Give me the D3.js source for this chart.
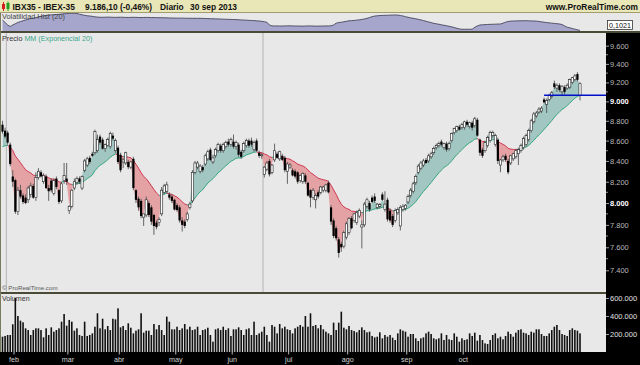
<!DOCTYPE html>
<html>
<head>
<meta charset="utf-8">
<script src="https://cdn.jsdelivr.net/npm/d3@7"></script>
<style>
  html, body { margin: 0; padding: 0; background: #e8e8e8; }
  svg { display: block; font-family: "Liberation Sans", Arial, sans-serif; }
</style>
</head>
<body>
<svg id="chart" width="640" height="365"></svg>
<script>
// -- Data --
// daily candles: [open, high, low, close]
const ohlc = [
  [8760,8800,8670,8690],[8700,8730,8620,8640],[8680,8700,8560,8580],[8560,8580,8350,8370],
  [8250,8310,8150,8200],[8215,8230,7900,7920],[7920,8150,7890,8120],[8120,8170,8040,8060],
  [8070,8090,7990,8010],[8050,8080,7990,8000],[8030,8160,8000,8140],[8080,8190,8050,8160],
  [8160,8180,8040,8050],[8050,8290,8020,8240],[8240,8330,8220,8300],[8290,8310,8240,8250],
  [8200,8280,8180,8260],[8250,8270,8130,8140],[8140,8170,8020,8110],[8210,8230,8100,8120],
  [8090,8230,8070,8210],[8230,8250,8130,8150],[8120,8130,7990,8010],[8020,8200,8000,8180],
  [8210,8380,8180,8260],[8230,8380,8170,8200],[7930,7980,7900,7970],[7970,8130,7950,8120],
  [8140,8230,8120,8200],[8190,8250,8170,8230],[8230,8250,8180,8200],[8140,8260,8120,8250],
  [8310,8420,8290,8400],[8360,8440,8340,8420],[8430,8450,8370,8390],[8470,8490,8440,8450],
  [8480,8710,8460,8690],[8500,8660,8480,8610],[8640,8660,8560,8580],[8610,8630,8510,8520],
  [8520,8570,8490,8560],[8550,8630,8540,8610],[8540,8690,8520,8670],[8650,8680,8600,8620],
  [8500,8620,8480,8600],[8530,8550,8370,8390],[8460,8480,8290,8310],[8390,8430,8330,8410],
  [8380,8490,8360,8480],[8390,8410,8320,8340],[8340,8400,8320,8390],[8420,8440,8120,8140],
  [8120,8130,8000,8030],[8040,8060,7930,7960],[8020,8040,7860,7880],[7870,7900,7790,7900],
  [7890,8060,7870,8030],[8000,8020,7870,7890],[7960,7980,7800,7830],[7890,7900,7710,7790],
  [7820,7840,7760,7780],[7820,7870,7790,7850],[7900,8150,7880,8120],[8100,8180,8080,8160],
  [8110,8200,8090,8170],[8080,8100,8030,8050],[8060,8080,8000,8020],[8030,8040,7930,7940],
  [7980,8000,7920,7935],[7960,7980,7820,7840],[7840,7870,7740,7800],[7830,7850,7770,7790],
  [7850,7920,7830,7900],[7960,8010,7940,7990],[8020,8310,8000,8290],[8290,8400,8270,8380],
  [8340,8400,8320,8380],[8300,8370,8280,8350],[8340,8360,8290,8310],[8370,8470,8350,8450],
  [8420,8510,8400,8490],[8510,8530,8400,8410],[8390,8460,8370,8430],[8450,8530,8430,8510],
  [8500,8580,8480,8560],[8550,8570,8480,8500],[8500,8580,8480,8560],[8540,8600,8520,8580],
  [8590,8620,8540,8560],[8560,8630,8540,8610],[8590,8660,8520,8540],[8540,8600,8510,8580],
  [8560,8580,8440,8460],[8490,8510,8420,8440],[8500,8590,8480,8570],[8550,8620,8530,8600],
  [8600,8620,8530,8550],[8600,8630,8540,8560],[8510,8600,8490,8580],[8600,8620,8490,8500],
  [8480,8500,8430,8450],[8450,8480,8420,8460],[8270,8350,8240,8340],[8320,8400,8300,8380],
  [8400,8420,8250,8270],[8290,8370,8270,8360],[8410,8570,8390,8500],[8470,8490,8420,8430],
  [8420,8500,8400,8490],[8450,8470,8400,8410],[8430,8450,8290,8310],[8300,8390,8180,8370],
  [8340,8380,8320,8360],[8310,8330,8250,8260],[8300,8320,8230,8250],[8290,8300,8180,8200],
  [8210,8270,8190,8260],[8200,8290,8180,8280],[8260,8280,8180,8200],[8190,8200,8060,8070],
  [8120,8130,7960,8050],[8050,8140,8030,8120],[8030,8090,7950,8070],[8100,8120,8040,8060],
  [8100,8160,8080,8150],[8120,8160,8100,8150],[8120,8180,8100,8170],[8190,8210,8090,8100],
  [7960,7980,7800,7830],[7840,7860,7680,7700],[7770,7790,7660,7680],[7670,7690,7510,7550],
  [7630,7650,7560,7600],[7610,7750,7590,7730],[7690,7830,7670,7810],[7730,7870,7710,7860],
  [7860,7880,7760,7770],[7840,7910,7820,7900],[7820,7930,7800,7910],[7880,7950,7860,7930],
  [7780,7840,7590,7800],[7800,8010,7780,7990],[7970,8050,7950,8030],[8000,8020,7920,7940],
  [8050,8070,8000,8010],[8060,8090,8000,8020],[7960,8000,7940,7990],[7970,8000,7950,7985],
  [8080,8100,8020,8030],[7940,8110,7920,7990],[8030,8050,7830,7850],[7930,7950,7820,7840],
  [7880,7900,7780,7800],[7840,7950,7820,7930],[7910,7960,7890,7940],[7790,7980,7750,7960],
  [7940,7990,7920,7970],[7950,7990,7930,7980],[8010,8080,7990,8060],[8070,8140,8050,8120],
  [8110,8200,8090,8180],[8190,8270,8170,8250],[8290,8370,8270,8350],[8330,8400,8310,8380],
  [8360,8420,8340,8400],[8410,8430,8370,8380],[8400,8470,8380,8450],[8440,8490,8420,8470],
  [8480,8540,8460,8520],[8530,8570,8510,8550],[8550,8590,8530,8570],
  [8590,8610,8540,8560],[8530,8580,8510,8570],[8570,8590,8490,8510],[8520,8590,8500,8570],
  [8600,8680,8580,8670],[8680,8730,8660,8720],[8700,8750,8680,8740],[8740,8760,8700,8710],
  [8730,8780,8710,8760],[8730,8800,8710,8790],[8790,8810,8740,8760],[8740,8790,8720,8780],
  [8780,8800,8700,8730],[8750,8840,8730,8820],[8810,8830,8640,8650],[8610,8620,8450,8480],
  [8510,8530,8430,8450],[8500,8600,8480,8580],[8550,8650,8530,8630],[8600,8700,8580,8680],
  [8650,8700,8630,8680],[8560,8670,8540,8650],[8610,8630,8370,8400],[8360,8420,8290,8410],
  [8410,8460,8390,8440],[8450,8470,8390,8410],[8400,8420,8270,8290],[8380,8460,8360,8450],
  [8420,8480,8400,8470],[8440,8520,8420,8500],[8470,8530,8360,8510],[8500,8570,8480,8550],
  [8530,8640,8510,8620],[8560,8670,8540,8650],[8610,8720,8590,8700],[8700,8820,8680,8800],
  [8790,8890,8770,8870],[8850,8900,8830,8880],[8890,8940,8870,8920],[8900,8950,8880,8930],
  [9020,9040,8980,8990],[8970,9030,8880,9010],[9020,9080,9000,9060],[9050,9110,9030,9090],
  [9190,9220,9130,9150],[9140,9190,9100,9170],[9170,9190,9100,9120],[9100,9170,9060,9160],
  [9150,9170,9070,9100],[9140,9190,9120,9170],[9150,9240,9130,9230],[9200,9260,9180,9250],
  [9230,9290,9210,9270],[9290,9310,9210,9228],[9060,9200,9010,9186.1]
];

// daily volume, thousands
const volumes = [
  170,178,189,189,308,600,400,348,330,263,244,189,244,263,263,244,163,263,189,274,226,244,263,
  337,422,293,356,337,237,263,189,178,337,178,189,207,281,430,263,370,252,289,244,
  370,363,485,274,289,244,319,270,207,237,252,430,215,237,237,189,311,252,300,244,189,
  393,337,252,252,281,244,263,311,252,281,244,252,281,189,244,252,270,189,115,252,263,244,
  281,244,263,178,252,252,274,244,189,252,263,189,337,189,207,226,281,189,115,300,
  281,207,311,263,281,252,244,207,263,281,300,281,400,281,430,289,300,263,
  300,252,226,207,189,326,244,326,448,270,252,289,244,233,219,244,274,244,219,226,
  178,163,170,219,152,189,170,189,159,133,207,252,237,226,170,200,200,152,122,152,
  163,207,226,200,152,141,152,207,133,189,141,133,207,170,115,152,133,141,207,178,
  215,126,189,133,96,89,133,189,207,152,170,141,178,226,200,170,215,244,252,215,
  207,189,226,215,252,252,200,178,178,207,244,281,300,244,200,189,178,244,263,244,237,207
];

// historical volatility (20)
const volatility = [
  0.214,0.187,0.160,0.144,0.160,0.174,0.187,0.197,0.205,0.214,0.222,0.230,0.234,0.240,0.246,
  0.254,0.260,0.264,0.268,0.269,0.271,0.273,0.275,0.278,0.281,0.283,0.285,0.286,0.286,0.284,
  0.276,0.270,0.264,0.259,0.257,0.253,0.248,0.245,0.243,
  0.243,0.244,0.245,0.244,0.243,0.242,0.243,0.244,0.243,0.242,0.241,0.242,0.243,0.242,0.241,
  0.240,0.241,0.242,0.241,
  0.240,0.240,0.239,0.239,0.238,0.238,0.237,0.236,0.235,
  0.235,0.234,0.234,0.234,0.233,0.233,0.233,0.232,0.232,0.232,0.232,
  0.231,0.230,0.229,0.228,0.227,0.226,0.225,0.224,0.223,0.222,0.221,
  0.220,0.219,0.218,0.216,0.215,0.213,0.212,0.210,0.209,0.207,0.205,0.203,
  0.200,0.195,0.190,0.160,0.150,
  0.150,0.150,0.149,0.149,0.150,0.151,0.151,0.150,0.149,0.149,0.148,0.148,0.149,0.150,0.150,
  0.149,0.148,0.148,0.149,0.149,0.150,0.150,0.151,
  0.160,0.180,0.186,0.190,0.195,0.200,0.205,0.207,0.209,0.212,0.216,0.220,0.225,0.232,0.240,
  0.250,0.256,0.259,0.262,0.263,0.264,0.265,0.266,0.267,0.268,0.267,0.262,0.257,0.250,0.243,
  0.237,0.232,0.227,0.221,0.215,0.208,0.200,0.193,0.186,0.178,0.173,0.168,0.162,0.157,0.152,
  0.146,0.140,0.133,0.125,0.118,0.114,0.114,0.114,0.114,0.115,0.135,0.150,0.160,0.162,0.164,
  0.166,0.167,0.168,0.169,0.170,0.171,0.180,0.190,0.198,0.202,0.203,0.204,0.205,0.205,0.206,
  0.206,0.205,0.204,0.203,0.202,0.198,0.194,0.190,0.186,0.183,0.180,0.177,0.174,0.171,0.165,
  0.150,0.136,0.130,0.122,0.115,0.108,0.1021
];

const monthLabels = ["feb", "mar", "abr", "may", "jun", "jul", "ago", "sep", "oct"];
const monthStartBars = [5, 26, 46, 68, 90, 112, 135, 158, 180];
const priceTicks = [7400, 7600, 7800, 8000, 8200, 8400, 8600, 8800, 9000, 9200, 9400, 9600];
const volumeTicks = [200000, 400000, 600000];
const markerBars = [2, 102];     // thin grey vertical lines
const emaStart = 8540;           // EMA(20) value at the first bar
const emaPeriod = 20;
const levelPrice = 9065;         // blue horizontal line
const levelFromBar = 211;
const lastVolatility = "0,1021";

// -- Layout --
const svg = d3.select("#chart");
const W = 640, H = 365;
const plotRight = 606;
const volTop = 13, volBottom = 31;
const priceTop = 33, priceBottom = 292;
const vTop = 294, vBottom = 352;

const N = ohlc.length;
const x = d3.scaleLinear().domain([0, N - 1]).range([2.5, 580]);
const step = x(1) - x(0);
const yPrice = d3.scaleLog().domain([7400, 9600]).range([270.3, 45.7]);
const yVolume = d3.scaleLinear().domain([0, 600000]).range([vBottom, 298]);
const yVolat = d3.scaleLinear().domain([0.09, 0.30]).range([31.5, 12]);

const numFmt = d3.formatLocale({decimal: ",", thousands: ".", grouping: [3], currency: ["", ""]}).format(",");

// EMA(20) of the closes
const ema = [];
ohlc.forEach((d, i) => {
    const k = 2 / (emaPeriod + 1);
    ema.push(i === 0 ? emaStart : ema[i - 1] + k * (d[3] - ema[i - 1]));
});

// -- Backgrounds and frames --
svg.append("rect").attr("width", W).attr("height", H).attr("fill", "#e8e8e8");
svg.append("rect").attr("x", 0).attr("y", 0).attr("width", W).attr("height", 12.5).attr("fill", "#e9e6b8");
svg.append("line").attr("x1", 0).attr("x2", W).attr("y1", 12.5).attr("y2", 12.5).attr("stroke", "#a09c70");

// header icon
svg.append("rect").attr("x", 2).attr("y", 4).attr("width", 3).attr("height", 5).attr("fill", "#d02020");
svg.append("line").attr("x1", 3.5).attr("x2", 3.5).attr("y1", 2).attr("y2", 11).attr("stroke", "#d02020");
svg.append("rect").attr("x", 6.5).attr("y", 3).attr("width", 3).attr("height", 6).attr("fill", "#20a020");
svg.append("line").attr("x1", 8).attr("x2", 8).attr("y1", 1.5).attr("y2", 11).attr("stroke", "#20a020");

const header = svg.append("text").attr("y", 9.8).attr("font-size", 8.4).attr("font-weight", "bold").attr("fill", "#111");
header.append("tspan").attr("x", 12.5).text("IBX35 - IBEX-35");
header.append("tspan").attr("x", 85).text("9.186,10 (-0,46%)");
header.append("tspan").attr("x", 160).text("Diario");
header.append("tspan").attr("x", 190).text("30 sep 2013");
svg.append("text").attr("x", 638).attr("y", 9.8).attr("text-anchor", "end")
    .attr("font-size", 8.4).attr("font-weight", "bold").attr("fill", "#111").text("www.ProRealTime.com");

// -- Volatility panel --
const volClip = svg.append("clipPath").attr("id", "volclip");
volClip.append("rect").attr("x", 0).attr("y", volTop).attr("width", plotRight).attr("height", volBottom - volTop);
const volG = svg.append("g").attr("clip-path", "url(#volclip)");
volG.append("path").datum(volatility)
    .attr("fill", "#a6a6cc")
    .attr("d", d3.area().x((d, i) => x(i)).y0(volBottom).y1(d => yVolat(d)));
volG.append("path").datum(volatility)
    .attr("fill", "none").attr("stroke", "#45455c").attr("stroke-width", 0.9)
    .attr("d", d3.line().x((d, i) => x(i)).y(d => yVolat(d)));
svg.append("text").attr("x", 2).attr("y", 19).attr("font-size", 7.3).attr("fill", "#444").text("Volatilidad Hist (20)");
svg.append("rect").attr("x", 607.5).attr("y", 20.5).attr("width", 25).attr("height", 9)
    .attr("fill", "#fff").attr("stroke", "#333").attr("stroke-width", 0.8);
svg.append("text").attr("x", 620).attr("y", 27.8).attr("text-anchor", "middle")
    .attr("font-size", 7.2).attr("fill", "#111").text(lastVolatility);

// panel separators
svg.append("rect").attr("x", 0).attr("y", volBottom).attr("width", W).attr("height", 2).attr("fill", "#4a4a36");
svg.append("rect").attr("x", 0).attr("y", priceBottom).attr("width", W).attr("height", 2).attr("fill", "#4a4a36");
svg.append("line").attr("x1", 0.5).attr("x2", 0.5).attr("y1", volTop).attr("y2", vBottom).attr("stroke", "#7a7a60");

// -- Price panel --
const priceClip = svg.append("clipPath").attr("id", "priceclip");
priceClip.append("rect").attr("x", 1).attr("y", priceTop).attr("width", plotRight - 1).attr("height", priceBottom - priceTop);
const priceG = svg.append("g").attr("clip-path", "url(#priceclip)");

markerBars.forEach(b => {
    priceG.append("line")
        .attr("x1", x(b) - step / 2).attr("x2", x(b) - step / 2)
        .attr("y1", priceTop).attr("y2", priceBottom)
        .attr("stroke", "#b4b4b4").attr("stroke-width", 1);
});

// clip regions above / below the EMA
svg.append("clipPath").attr("id", "aboveema").append("path")
    .attr("d", d3.area().x((d, i) => x(i)).y0(d => yPrice(d)).y1(priceTop)(ema));
svg.append("clipPath").attr("id", "belowema").append("path")
    .attr("d", d3.area().x((d, i) => x(i)).y0(d => yPrice(d)).y1(priceBottom)(ema));

const bandArea = d3.area()
    .x((d, i) => x(i))
    .y0((d, i) => yPrice(ema[i]))
    .y1(d => yPrice(d[3]));

priceG.append("path").datum(ohlc).attr("clip-path", "url(#aboveema)")
    .attr("fill", "#a2c6c2").attr("d", bandArea);
priceG.append("path").datum(ohlc).attr("clip-path", "url(#belowema)")
    .attr("fill", "#e4a2a4").attr("d", bandArea);

// EMA line, green while price above it, red below
for (let i = 1; i < N; i++) {
    priceG.append("line")
        .attr("x1", x(i - 1)).attr("y1", yPrice(ema[i - 1]))
        .attr("x2", x(i)).attr("y2", yPrice(ema[i]))
        .attr("stroke", ohlc[i][3] >= ema[i] ? "#2ea880" : "#d2344f")
        .attr("stroke-width", 1);
}

// candles
const candles = priceG.selectAll(".candle").data(ohlc).enter()
    .append("g").attr("class", "candle");
candles.append("line")
    .attr("x1", (d, i) => x(i)).attr("x2", (d, i) => x(i))
    .attr("y1", d => yPrice(d[1])).attr("y2", d => yPrice(d[2]))
    .attr("stroke", "#555").attr("stroke-width", 0.9);
candles.append("rect")
    .attr("x", (d, i) => x(i) - 1.1)
    .attr("width", 2.2)
    .attr("y", d => yPrice(Math.max(d[0], d[3])))
    .attr("height", d => Math.max(0.8, Math.abs(yPrice(d[0]) - yPrice(d[3]))))
    .attr("fill", d => d[3] >= d[0] ? "#fff" : "#000")
    .attr("stroke", d => d[3] >= d[0] ? "#222" : "none")
    .attr("stroke-width", 0.6);

// blue level line
svg.append("line")
    .attr("x1", x(levelFromBar)).attr("x2", plotRight)
    .attr("y1", yPrice(levelPrice)).attr("y2", yPrice(levelPrice))
    .attr("stroke", "#0010c8").attr("stroke-width", 1.4);

const precio = svg.append("text").attr("x", 2).attr("y", 40.5).attr("font-size", 7.2).attr("fill", "#333");
precio.append("tspan").text("Precio ");
precio.append("tspan").attr("fill", "#3aa58a").text("MM (Exponencial 20)");
svg.append("text").attr("x", 2).attr("y", 290.3).attr("font-size", 6.2).attr("fill", "#555").text("© ProRealTime.com");

// -- Volume panel --
svg.append("text").attr("x", 2).attr("y", 301).attr("font-size", 7.1).attr("fill", "#333").text("Volumen");
svg.append("g").selectAll("rect").data(volumes).enter().append("rect")
    .attr("x", (d, i) => x(i) - 0.8)
    .attr("width", 1.6)
    .attr("y", d => yVolume(d * 1000))
    .attr("height", d => vBottom - yVolume(d * 1000))
    .attr("fill", "#111");

// -- Right axes (black strip) --
svg.append("rect").attr("x", plotRight).attr("y", priceTop).attr("width", W - plotRight).attr("height", vBottom - priceTop).attr("fill", "#000");
svg.append("rect").attr("x", 0).attr("y", vBottom).attr("width", W).attr("height", H - vBottom).attr("fill", "#000");

const priceAxis = svg.append("g").attr("transform", `translate(${plotRight},0)`)
    .call(d3.axisRight(yPrice).tickValues(priceTicks).tickFormat(numFmt).tickSize(3).tickPadding(1));
priceAxis.attr("font-family", null).attr("font-size", 7.5);
priceAxis.select(".domain").remove();
priceAxis.selectAll(".tick line").attr("stroke", "#a0a0a0");
priceAxis.selectAll(".tick text")
    .attr("fill", d => d % 1000 === 0 ? "#ffffff" : "#b8b8b8")
    .attr("font-weight", d => d % 1000 === 0 ? "bold" : "normal");

// minor price ticks
const minorTicks = d3.range(7500, 9600, 200);
svg.append("g").selectAll("line").data(minorTicks).enter().append("line")
    .attr("x1", plotRight).attr("x2", plotRight + 2)
    .attr("y1", d => yPrice(d)).attr("y2", d => yPrice(d))
    .attr("stroke", "#909090");

const volAxis = svg.append("g").attr("transform", `translate(${plotRight},0)`)
    .call(d3.axisRight(yVolume).tickValues(volumeTicks).tickFormat(numFmt).tickSize(3).tickPadding(1));
volAxis.attr("font-family", null).attr("font-size", 7.5);
volAxis.select(".domain").remove();
volAxis.selectAll(".tick line").attr("stroke", "#a0a0a0");
volAxis.selectAll(".tick text").attr("fill", "#e0e0e0");

// -- Month axis --
const months = svg.append("g");
monthStartBars.forEach((b, i) => {
    const mx = x(b) - step / 2;
    months.append("line").attr("x1", mx).attr("x2", mx).attr("y1", vBottom).attr("y2", vBottom + 2.5)
        .attr("stroke", "#bbb");
    months.append("text").attr("x", mx).attr("y", 361.5).attr("text-anchor", "middle")
        .attr("font-size", 7.2).attr("fill", "#cfcfcf").text(monthLabels[i]);
});
</script>
</body>
</html>
